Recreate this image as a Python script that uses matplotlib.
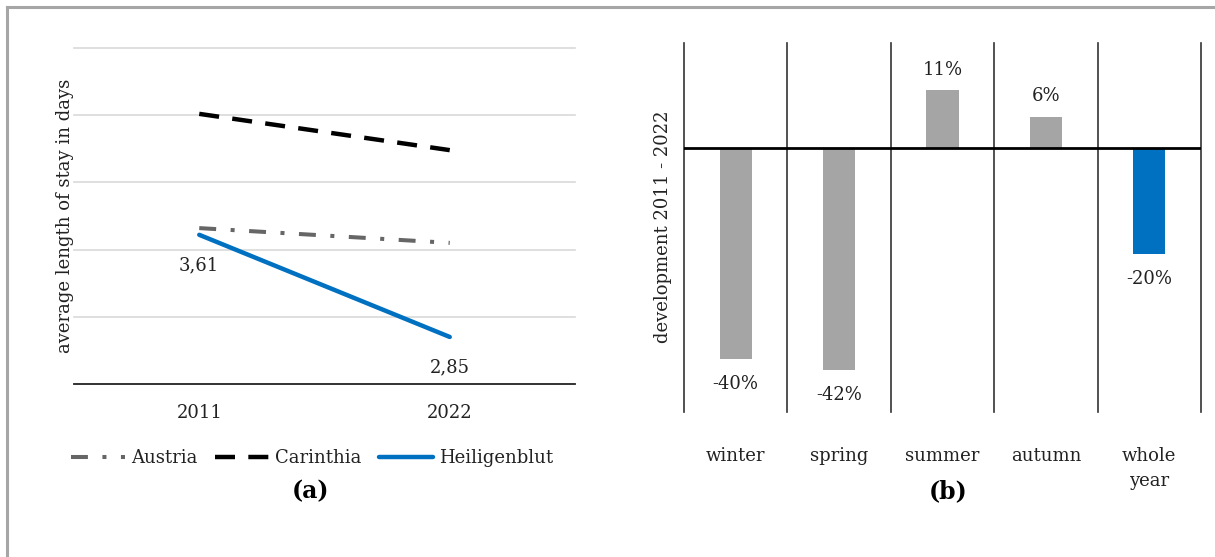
import matplotlib
matplotlib.use("Agg")
import matplotlib.pyplot as plt
from matplotlib.lines import Line2D
from matplotlib.transforms import blended_transform_factory

# ---- data -------------------------------------------------------------
years = ["2011", "2022"]
austria = [3.66, 3.55]
carinthia = [4.51, 4.24]
heiligenblut = [3.61, 2.85]
stay_labels = ["3,61", "2,85"]

seasons = ["winter", "spring", "summer", "autumn", "whole\nyear"]
development = [-0.40, -0.42, 0.11, 0.06, -0.20]
dev_labels = ["-40%", "-42%", "11%", "6%", "-20%"]

# ---- style ------------------------------------------------------------
FONT = "DejaVu Serif"
FS = 13
GREY_LINE = "#666666"
BLUE = "#0070C0"
BAR_GREY = "#A5A5A5"
TEXT = "#222222"

plt.rcParams["font.family"] = FONT

W, H = 1215, 557
fig = plt.figure(figsize=(W / 100, H / 100), dpi=100)


def fx(px):
    return px / W


def fy(py):
    return 1 - py / H


# thin frame around the figure (top and left)
fig.add_artist(Line2D([fx(7), fx(7)], [0, fy(7)], color="#A6A6A6", lw=2.2))
fig.add_artist(Line2D([fx(7), 1], [fy(7), fy(7)], color="#A6A6A6", lw=2.2))

# ---- (a) average length of stay ---------------------------------------
ax1 = fig.add_axes([fx(74), fy(384), fx(575) - fx(74), fy(48) - fy(384)])
x = [0, 1]
ax1.set_xlim(-0.5, 1.5)
ax1.set_ylim(2.5, 5.0)
for g in [3.0, 3.5, 4.0, 4.5, 5.0]:
    ax1.axhline(g, color="#D9D9D9", lw=1.2, zorder=0, clip_on=False)
ax1.set_yticks([])
ax1.tick_params(axis="x", bottom=False, labelsize=FS, labelcolor=TEXT, pad=11)
ax1.set_xticks(x)
ax1.set_xticklabels(years)
for s in ["top", "right", "left"]:
    ax1.spines[s].set_visible(False)
ax1.spines["bottom"].set_color("#222222")
ax1.spines["bottom"].set_linewidth(1.3)

l_aut, = ax1.plot(x, austria, color=GREY_LINE, lw=2.9,
                  dashes=(4.2, 3.6, 1.0, 3.6), label="Austria")
l_car, = ax1.plot(x, carinthia, color="black", lw=3.2,
                  dashes=(4.5, 3.0), label="Carinthia")
l_hei, = ax1.plot(x, heiligenblut, color=BLUE, lw=3.2,
                  solid_capstyle="round", label="Heiligenblut")

ax1.annotate(stay_labels[0], (x[0], heiligenblut[0]), xytext=(0, -22),
             textcoords="offset points", ha="center", va="center",
             fontsize=FS, color=TEXT)
ax1.annotate(stay_labels[1], (x[1], heiligenblut[1]), xytext=(0, -22),
             textcoords="offset points", ha="center", va="center",
             fontsize=FS, color=TEXT)

fig.text(fx(65), fy(216), "average length of stay in days", rotation=90,
         ha="center", va="center", fontsize=FS, color=TEXT)

fig.legend(handles=[l_aut, l_car, l_hei], loc="center",
           bbox_to_anchor=(fx(312), fy(458)), ncol=3, frameon=False,
           fontsize=FS, handlelength=3.0, handletextpad=0.3,
           columnspacing=1.0, labelcolor=TEXT)

fig.text(fx(311), fy(491), "(a)", ha="center", va="center",
         fontsize=FS + 4, fontweight="bold", color="black")

# ---- (b) development 2011 - 2022 --------------------------------------
ax2 = fig.add_axes([fx(684), fy(412), fx(1201) - fx(684), fy(43) - fy(412)])
pos = list(range(len(seasons)))
ax2.set_xlim(-0.5, len(seasons) - 0.5)
ax2.set_ylim(-0.5, 0.2)
colors = [BAR_GREY] * (len(seasons) - 1) + [BLUE]
ax2.bar(pos, development, width=0.31, color=colors, zorder=2)
for b in range(len(seasons) + 1):
    ax2.axvline(b - 0.5, color="#333333", lw=1.2, zorder=1, clip_on=False)
ax2.axhline(0, color="black", lw=2.0, zorder=3)
for s in ax2.spines.values():
    s.set_visible(False)
ax2.set_yticks([])
ax2.set_xticks([])

for p, v, lab in zip(pos, development, dev_labels):
    off = 15 if v > 0 else -18
    ax2.annotate(lab, (p, v), xytext=(0, off), textcoords="offset points",
                 ha="center", va="center", fontsize=FS, color=TEXT)

tr = blended_transform_factory(ax2.transData, fig.transFigure)
for p, name in zip(pos, seasons):
    ax2.text(p, fy(447), name, transform=tr, ha="center", va="top",
             fontsize=FS, color=TEXT, linespacing=1.5)

fig.text(fx(663), fy(227), "development 2011 - 2022", rotation=90,
         ha="center", va="center", fontsize=FS, color=TEXT)

fig.text(fx(948), fy(491), "(b)", ha="center", va="center",
         fontsize=FS + 4, fontweight="bold", color="black")

fig.savefig("out.png", dpi=100, facecolor="white")
